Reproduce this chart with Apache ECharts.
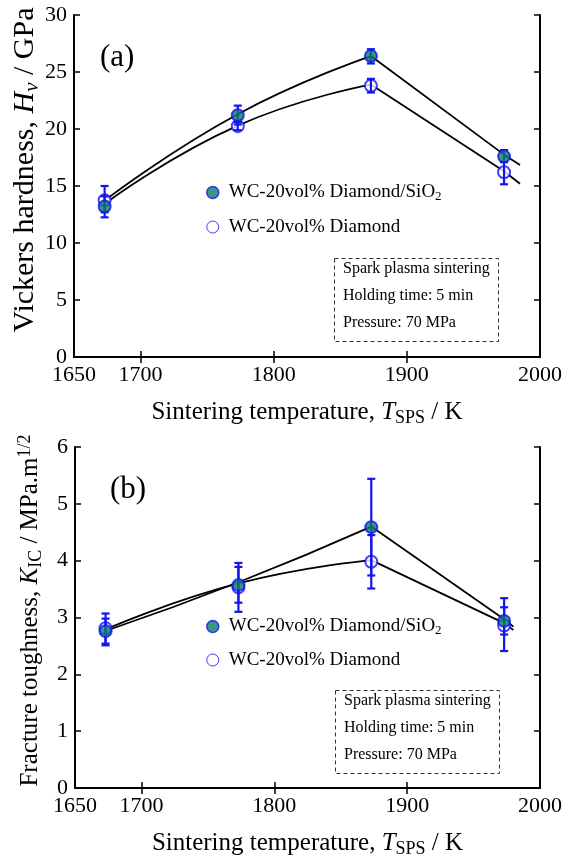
<!DOCTYPE html>
<html>
<head>
<meta charset="utf-8">
<script src="https://cdn.jsdelivr.net/npm/echarts@6/dist/echarts.min.js"></script>
<style>
  html, body { margin: 0; padding: 0; background: #fff; }
  #chart { width: 565px; height: 859px; }
</style>
</head>
<body>
<div id="chart"></div>
<script>
const temps = [1673, 1773, 1873, 1973]
const xLabels = [1650, 1700, 1800, 1900, 2000]
const xTicks = [1700, 1800, 1900]

// (a) Vickers hardness
const hvSiO2 = [13.2, 21.2, 26.4, 17.6]
const hvSiO2Err = [[12.25, 14.1], [20.4, 22.05], [25.75, 27.0], [17.1, 18.15]]
const hvDia = [13.75, 20.25, 23.8, 16.2]
const hvDiaErr = [[12.7, 15.0], [19.9, 20.6], [23.2, 24.4], [15.15, 17.1]]
const fitTA = [1675, 1773, 1873, 1973, 1985]
const hvSiO2Fit = [13.9, 21.3, 26.4, 17.75, 16.85]
const hvDiaFit = [13.6, 20.3, 23.9, 16.3, 15.2]

// (b) fracture toughness
const kicSiO2 = [2.76, 3.57, 4.59, 2.94]
const kicSiO2Err = [[2.54, 2.98], [3.26, 3.89], [3.74, 5.44], [2.70, 3.18]]
const kicDia = [2.81, 3.53, 3.98, 2.86]
const kicDiaErr = [[2.51, 3.07], [3.10, 3.96], [3.51, 4.45], [2.41, 3.34]]
const fitTB = [1675, 1773, 1873, 1973, 1980]
const kicSiO2Fit = [2.78, 3.62, 4.6, 2.97, 2.84]
const kicDiaFit = [2.81, 3.6, 4.01, 2.9, 2.78]

const nameSiO2 = 'WC-20vol% Diamond/SiO2'
const nameDia = 'WC-20vol% Diamond'

const FONT = 'Liberation Serif'
const BLUE = '#1414f0'
const TEAL = '#0a7a6c'

const zip = (xs, ys) => xs.map((x, i) => [x, ys[i]])
const zipErr = (xs, es) => xs.map((x, i) => [x, es[i][0], es[i][1]])

function richFor(size) {
  const s = Math.round(size * 0.7)
  const off = Math.round(size * 0.45)
  return {
    i: { fontFamily: FONT, fontStyle: 'italic', fontSize: size, color: '#000' },
    sub: { fontFamily: FONT, fontSize: s, color: '#000', padding: [off, 0, 0, 0] },
    isub: { fontFamily: FONT, fontStyle: 'italic', fontSize: s, color: '#000', padding: [off, 0, 0, 0] },
    sup: { fontFamily: FONT, fontSize: s, color: '#000', padding: [0, 0, off, 0] },
  }
}

function xAxes(grid) {
  const common = {
    gridIndex: grid, type: 'value', min: 1650, max: 2000,
    axisLine: { lineStyle: { color: '#000', width: 2 } },
    splitLine: { show: false },
    axisTick: { inside: true, length: 6, customValues: xTicks, lineStyle: { color: '#000', width: 1.5 } },
  }
  return [
    {
      ...common, position: 'bottom',
      axisLabel: { customValues: xLabels, formatter: (v) => String(v), color: '#000', fontFamily: FONT, fontSize: 22, margin: 7 },
      name: 'Sintering temperature, {i|T}{sub|SPS} / K',
      nameLocation: 'middle', nameGap: 41, nameMoveOverlap: false,
      nameTextStyle: { fontFamily: FONT, fontSize: 25, color: '#000', rich: richFor(25) },
    },
    { ...common, position: 'top', axisLabel: { show: false } },
  ]
}

function yAxes(grid, max, name, size, gap, shift) {
  const common = {
    gridIndex: grid, type: 'value', min: 0, max, interval: max / 6,
    axisLine: { show: true, lineStyle: { color: '#000', width: 2 } },
    splitLine: { show: false },
    axisTick: { show: true, inside: true, length: 6, lineStyle: { color: '#000', width: 1.5 } },
  }
  return [
    {
      ...common, position: 'left',
      axisLabel: { color: '#000', fontFamily: FONT, fontSize: 22, margin: 7 },
      name, nameLocation: 'middle', nameGap: gap, nameRotate: 90, nameMoveOverlap: false,
      nameTextStyle: { fontFamily: FONT, fontSize: size, color: '#000', rich: richFor(size), padding: [0, 0, 0, shift] },
    },
    { ...common, position: 'right', axisLabel: { show: false } },
  ]
}

function errBars(grid, data, name) {
  return {
    type: 'custom', name, xAxisIndex: grid * 2, yAxisIndex: grid * 2, z: 4,
    data,
    renderItem(params, api) {
      const lo = api.coord([api.value(0), api.value(1)])
      const hi = api.coord([api.value(0), api.value(2)])
      const w = 4
      const style = { stroke: BLUE, lineWidth: 2.2 }
      return {
        type: 'group',
        children: [
          { type: 'line', shape: { x1: lo[0], y1: lo[1], x2: hi[0], y2: hi[1] }, style },
          { type: 'line', shape: { x1: lo[0] - w, y1: lo[1], x2: lo[0] + w, y2: lo[1] }, style },
          { type: 'line', shape: { x1: hi[0] - w, y1: hi[1], x2: hi[0] + w, y2: hi[1] }, style },
        ],
      }
    },
  }
}

function panel(grid, fitT, fitA, fitB, valA, errA, valB, errB) {
  const ax = { xAxisIndex: grid * 2, yAxisIndex: grid * 2 }
  // fitted trend: smooth rise up to the peak, straight fall after it
  const fit = (d) => [
    {
      type: 'line', ...ax, data: zip(fitT, d).slice(0, 3), smooth: 0.5, symbol: 'none', z: 2,
      lineStyle: { color: '#000', width: 1.8 }, silent: true,
    },
    {
      type: 'line', ...ax, data: zip(fitT, d).slice(2), symbol: 'none', z: 2,
      lineStyle: { color: '#000', width: 1.8 }, silent: true,
    },
  ]
  return [
    ...fit(fitA),
    ...fit(fitB),
    {
      type: 'scatter', name: nameDia, ...ax, data: zip(temps, valB), symbol: 'circle', symbolSize: 12, z: 3,
      itemStyle: { color: '#fff', borderColor: BLUE, borderWidth: 2 },
    },
    errBars(grid, zipErr(temps, errB), nameDia),
    {
      type: 'scatter', name: nameSiO2, ...ax, data: zip(temps, valA), symbol: 'circle', symbolSize: 12, z: 5,
      itemStyle: { color: TEAL, borderColor: BLUE, borderWidth: 2 },
    },
    errBars(grid, zipErr(temps, errA), nameSiO2),
  ]
}

function legend(top, gap) {
  return {
    left: 206, top, padding: 0, orient: 'vertical', itemGap: gap, itemWidth: 12, itemHeight: 12,
    selectedMode: false,
    data: [
      { name: nameSiO2, icon: 'circle', itemStyle: { color: TEAL, borderColor: BLUE, borderWidth: 1.5 } },
      { name: nameDia, icon: 'circle', itemStyle: { color: '#fff', borderColor: BLUE, borderWidth: 1 } },
    ],
    formatter: (n) => (n === nameSiO2 ? 'WC-20vol% Diamond/SiO{sub|2}' : n),
    textStyle: {
      fontFamily: FONT, fontSize: 19, color: '#000', padding: [0, 0, 0, 5],
      rich: { sub: { fontFamily: FONT, fontSize: 13, color: '#000', padding: [9, 0, 0, 0] } },
    },
  }
}

function infoBox(x, y) {
  const lines = ['Spark plasma sintering', 'Holding time: 5 min', 'Pressure: 70 MPa']
  return [
    {
      type: 'rect', left: x, top: y, shape: { width: 164, height: 83 },
      style: { fill: 'none', stroke: '#333', lineWidth: 1, lineDash: [4, 3] },
    },
    ...lines.map((t, i) => ({
      type: 'text', left: x + 11, top: y + 5 + i * 27,
      style: { text: t, fontFamily: FONT, fontSize: 16, fill: '#000' },
    })),
  ]
}

const chart = echarts.init(document.getElementById('chart'))
chart.setOption({
  backgroundColor: '#fff',
  animation: false,
  grid: [
    { left: 74, top: 15, width: 466, height: 342 },
    { left: 75, top: 447, width: 465, height: 342 },
  ],
  xAxis: [...xAxes(0), ...xAxes(1)],
  yAxis: [
    ...yAxes(0, 30, 'Vickers hardness, {i|H}{isub|v} / GPa', 30, 31, 32),
    ...yAxes(1, 6, 'Fracture toughness, {i|K}{sub|IC} / MPa.m{sup|1/2}', 25, 30, 14),
  ],
  legend: [legend(183, 14), legend(617, 13)],
  graphic: [
    { type: 'text', left: 100, top: 42, style: { text: '(a)', fontFamily: FONT, fontSize: 31, fill: '#000' } },
    { type: 'text', left: 110, top: 474, style: { text: '(b)', fontFamily: FONT, fontSize: 31, fill: '#000' } },
    ...infoBox(332, 256),
    ...infoBox(333, 688),
  ],
  series: [
    ...panel(0, fitTA, hvSiO2Fit, hvDiaFit, hvSiO2, hvSiO2Err, hvDia, hvDiaErr),
    ...panel(1, fitTB, kicSiO2Fit, kicDiaFit, kicSiO2, kicSiO2Err, kicDia, kicDiaErr),
  ],
})
</script>
</body>
</html>
